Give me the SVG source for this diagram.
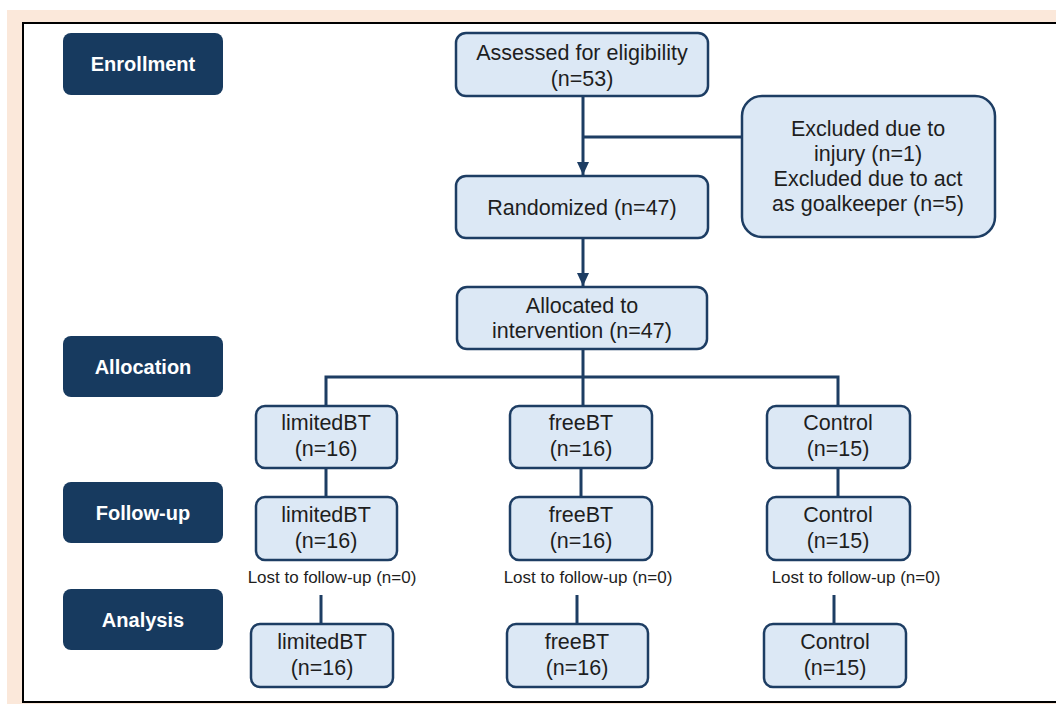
<svg xmlns="http://www.w3.org/2000/svg" width="1056" height="704" viewBox="0 0 1056 704">
  <defs>
    <style>
      .stage rect { fill: #173a5f; }
      .stage text { fill: #ffffff; font-family: "Liberation Sans", Arial, sans-serif; font-size: 20px; font-weight: bold; text-anchor: middle; }
      .box rect { fill: #dce8f5; stroke: #1d3d63; stroke-width: 2.5; }
      .box text { fill: #1e1e1e; font-family: "Liberation Sans", Arial, sans-serif; font-size: 21.5px; text-anchor: middle; }
      .lost { fill: #1e1e1e; font-family: "Liberation Sans", Arial, sans-serif; font-size: 17px; text-anchor: middle; }
      .conn line, .conn path { stroke: #1d3d63; stroke-width: 3; fill: none; }
    </style>
    <marker id="arrow" markerUnits="userSpaceOnUse" markerWidth="14" markerHeight="12" refX="13" refY="6" orient="auto">
      <path d="M0,0 L13,6 L0,12 Z" fill="#1d3d63"/>
    </marker>
  </defs>

  <rect x="0" y="0" width="1056" height="704" fill="#ffffff"/>
  <rect x="7" y="10" width="1049" height="694" fill="#fbe8da"/>
  <rect x="23" y="23" width="1040" height="679" fill="#ffffff" stroke="#000000" stroke-width="2"/>

  <g id="enrollment" class="stage"><rect x="63" y="33" width="160" height="62" rx="8"/><text x="143" y="71">Enrollment</text></g>
  <g id="allocation" class="stage"><rect x="63" y="336" width="160" height="61" rx="8"/><text x="143" y="374">Allocation</text></g>
  <g id="followup" class="stage"><rect x="63" y="482" width="160" height="61" rx="8"/><text x="143" y="520">Follow-up</text></g>
  <g id="analysis" class="stage"><rect x="63" y="589" width="160" height="61" rx="8"/><text x="143" y="627">Analysis</text></g>

  <g class="conn">
    <line x1="583" y1="96" x2="583" y2="175" marker-end="url(#arrow)"/>
    <line x1="583" y1="137" x2="742" y2="137"/>
    <line x1="583" y1="238" x2="583" y2="286" marker-end="url(#arrow)"/>
    <line x1="583" y1="349" x2="583" y2="406"/>
    <path d="M326,406 V377 H838 V406"/>
    <line x1="326" y1="468" x2="326" y2="497"/>
    <line x1="581" y1="468" x2="581" y2="497"/>
    <line x1="838" y1="468" x2="838" y2="497"/>
    <line x1="321" y1="595" x2="321" y2="624"/>
    <line x1="577" y1="595" x2="577" y2="624"/>
    <line x1="834" y1="595" x2="834" y2="624"/>
  </g>

  <g id="assessed" class="box"><rect x="456" y="33" width="252" height="63" rx="10"/><text x="582" y="60">Assessed for eligibility</text><text x="582" y="86">(n=53)</text></g>
  <g id="excluded" class="box"><rect x="742" y="96" width="253" height="141" rx="20"/><text x="868" y="136">Excluded due to</text><text x="868" y="161">injury (n=1)</text><text x="868" y="186">Excluded due to act</text><text x="868" y="211">as goalkeeper (n=5)</text></g>
  <g id="randomized" class="box"><rect x="456" y="176" width="252" height="62" rx="10"/><text x="582" y="215">Randomized (n=47)</text></g>
  <g id="allocated" class="box"><rect x="457" y="287" width="250" height="62" rx="10"/><text x="582" y="313">Allocated to</text><text x="582" y="338">intervention (n=47)</text></g>

  <g id="alloc-limited" class="box"><rect x="256" y="406" width="141" height="62" rx="9"/><text x="326" y="430">limitedBT</text><text x="326" y="456">(n=16)</text></g>
  <g id="alloc-free" class="box"><rect x="510" y="406" width="142" height="62" rx="9"/><text x="581" y="430">freeBT</text><text x="581" y="456">(n=16)</text></g>
  <g id="alloc-control" class="box"><rect x="767" y="406" width="143" height="62" rx="9"/><text x="838" y="430">Control</text><text x="838" y="456">(n=15)</text></g>

  <g id="fu-limited" class="box"><rect x="256" y="497" width="141" height="63" rx="9"/><text x="326" y="522">limitedBT</text><text x="326" y="548">(n=16)</text></g>
  <g id="fu-free" class="box"><rect x="510" y="497" width="142" height="63" rx="9"/><text x="581" y="522">freeBT</text><text x="581" y="548">(n=16)</text></g>
  <g id="fu-control" class="box"><rect x="767" y="497" width="143" height="63" rx="9"/><text x="838" y="522">Control</text><text x="838" y="548">(n=15)</text></g>

  <g id="lost-labels">
    <text class="lost" x="332" y="583">Lost to follow-up (n=0)</text>
    <text class="lost" x="588" y="583">Lost to follow-up (n=0)</text>
    <text class="lost" x="856" y="583">Lost to follow-up (n=0)</text>
  </g>

  <g id="an-limited" class="box"><rect x="251" y="624" width="142" height="63" rx="9"/><text x="322" y="649">limitedBT</text><text x="322" y="675">(n=16)</text></g>
  <g id="an-free" class="box"><rect x="507" y="624" width="141" height="63" rx="9"/><text x="577" y="649">freeBT</text><text x="577" y="675">(n=16)</text></g>
  <g id="an-control" class="box"><rect x="764" y="624" width="142" height="63" rx="9"/><text x="835" y="649">Control</text><text x="835" y="675">(n=15)</text></g>
</svg>
